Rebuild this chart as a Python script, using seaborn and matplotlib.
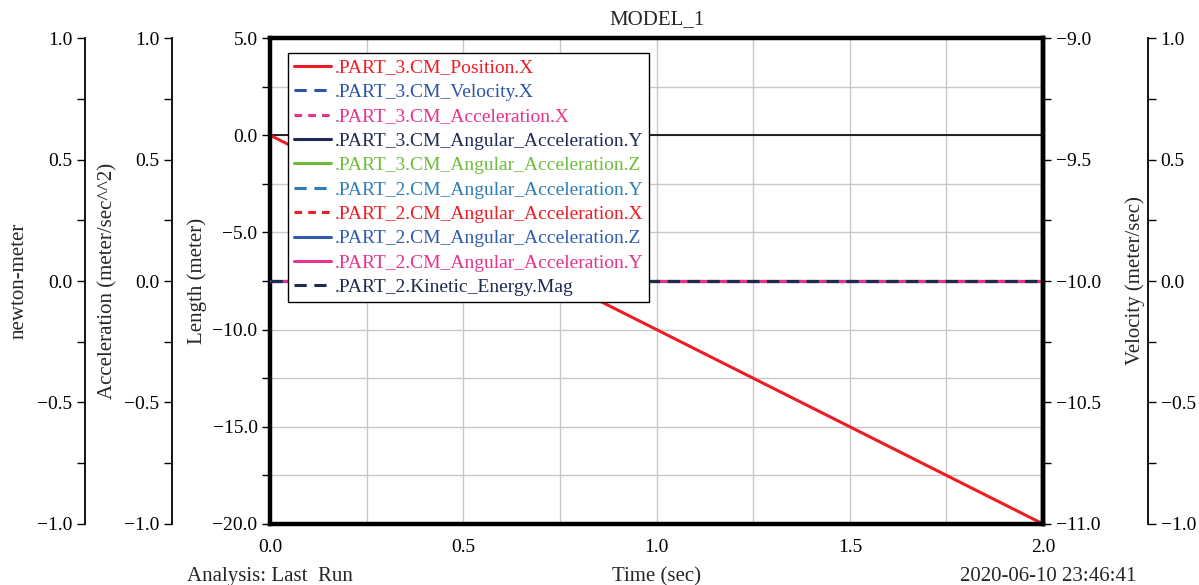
import matplotlib
matplotlib.use("Agg")
import matplotlib.pyplot as plt
from matplotlib.ticker import MultipleLocator, FuncFormatter
import seaborn as sns
import pandas as pd

# ---- data ----
time_s = [0.0, 0.5, 1.0, 1.5, 2.0]
position_x = [0.0, -5.0, -10.0, -15.0, -20.0]
velocity_x = [-10.0, -10.0, -10.0, -10.0, -10.0]
accel_x = [0.0, 0.0, 0.0, 0.0, 0.0]
p3_ang_acc_y = [0.0, 0.0, 0.0, 0.0, 0.0]
p3_ang_acc_z = [0.0, 0.0, 0.0, 0.0, 0.0]
p2_ang_acc_y = [0.0, 0.0, 0.0, 0.0, 0.0]
p2_ang_acc_x = [0.0, 0.0, 0.0, 0.0, 0.0]
p2_ang_acc_z = [0.0, 0.0, 0.0, 0.0, 0.0]
p2_ang_acc_y2 = [0.0, 0.0, 0.0, 0.0, 0.0]
p2_kinetic = [0.0, 0.0, 0.0, 0.0, 0.0]

labels = [".PART_3.CM_Position.X", ".PART_3.CM_Velocity.X", ".PART_3.CM_Acceleration.X",
          ".PART_3.CM_Angular_Acceleration.Y", ".PART_3.CM_Angular_Acceleration.Z",
          ".PART_2.CM_Angular_Acceleration.Y", ".PART_2.CM_Angular_Acceleration.X",
          ".PART_2.CM_Angular_Acceleration.Z", ".PART_2.CM_Angular_Acceleration.Y",
          ".PART_2.Kinetic_Energy.Mag"]

sns.set_theme(style="white")
plt.rcParams['font.family'] = ['Liberation Serif', 'DejaVu Serif']
FS = 14
LFS = 15

fmt = FuncFormatter(lambda v, p: ("%.1f" % v).replace("-", "\u2212"))

fig = plt.figure(figsize=(11.99, 5.85), dpi=100)
ax = fig.add_axes([0.2252, 0.1043, 0.870 - 0.2252, 0.935 - 0.1043])
ax_acc = ax.twinx()
ax_nm = ax.twinx()
ax_vel = ax.twinx()
ax_r2 = ax.twinx()

RED = "#ee1c24"
BLUE = "#2b55a6"
PINK = "#e8338c"
NAVY = "#1f2a55"
GREEN = "#6cbd3a"
STEEL = "#2f7db6"
BLUE2 = "#2f5cae"
NAVY2 = "#1e2a4e"

specs = [
    (ax, position_x, RED, "-"),
    (ax_vel, velocity_x, BLUE, (0, (4, 2.5))),
    (ax_acc, accel_x, PINK, (0, (2.5, 2))),
    (ax_nm, p3_ang_acc_y, NAVY, "-"),
    (ax_nm, p3_ang_acc_z, GREEN, "-"),
    (ax_nm, p2_ang_acc_y, STEEL, (0, (4, 2.5))),
    (ax_nm, p2_ang_acc_x, RED, (0, (2.5, 2))),
    (ax_nm, p2_ang_acc_z, BLUE2, "-"),
    (ax_nm, p2_ang_acc_y2, PINK, "-"),
    (ax_r2, p2_kinetic, NAVY2, (0, (4, 2.5))),
]

handles = []
for (a, vals, col, ls), lab in zip(specs, labels):
    df = pd.DataFrame({"t": time_s, "v": vals})
    sns.lineplot(data=df, x="t", y="v", ax=a, color=col, linewidth=2.2, legend=False)
    line = a.get_lines()[-1]
    line.set_linestyle(ls)
    line.set_label(lab)
    handles.append(line)

# zero line on main axes
ax.axhline(0, color="black", linewidth=1.2, zorder=1)

# main axes
ax.set_xlim(0, 2.0)
ax.set_ylim(-20, 5)
ax.xaxis.set_major_locator(MultipleLocator(0.5))
ax.xaxis.set_minor_locator(MultipleLocator(0.25))
ax.yaxis.set_major_locator(MultipleLocator(5))
ax.yaxis.set_minor_locator(MultipleLocator(2.5))
ax.xaxis.set_major_formatter(fmt)
ax.yaxis.set_major_formatter(fmt)
ax.grid(True, which="both", color="#c8c8c8", linewidth=1.0)
ax.set_axisbelow(True)
for s in ax.spines.values():
    s.set_linewidth(3.2)
    s.set_color("black")
ax.tick_params(axis="both", which="both", direction="out", length=6, width=1,
               labelsize=FS, colors="black", pad=3)
ax.tick_params(axis="x", which="both", length=0, pad=11)
ax.set_ylabel("Length (meter)", fontsize=LFS, labelpad=4)
ax.set_xlabel("")
ax.set_title("MODEL_1", fontsize=LFS, pad=10)

def style_side(a, ylim, side, pos, label=None, labelpad=4):
    a.set_ylim(*ylim)
    for k in ["top", "bottom", "left", "right"]:
        a.spines[k].set_visible(False)
    a.spines[side].set_visible(True)
    a.spines[side].set_linewidth(1.3)
    a.spines[side].set_color("black")
    a.spines[side].set_position(("axes", pos))
    a.yaxis.set_ticks_position(side)
    a.yaxis.set_label_position(side)
    a.yaxis.set_major_locator(MultipleLocator(0.5))
    a.yaxis.set_minor_locator(MultipleLocator(0.25))
    a.yaxis.set_major_formatter(fmt)
    a.tick_params(axis="y", which="both", direction="out", length=6, width=1,
                  labelsize=FS, colors="black", pad=3)
    a.grid(False)
    if label:
        a.set_ylabel(label, fontsize=LFS, labelpad=labelpad)
    else:
        a.set_ylabel("")

style_side(ax_acc, (-1, 1), "left", -0.1268, "Acceleration (meter/sec^^2)", 4.5)
style_side(ax_nm, (-1, 1), "left", -0.2393, "newton-meter", 6.5)
style_side(ax_vel, (-11, -9), "right", 1.0, "Velocity (meter/sec)", 18)
ax_vel.yaxis.label.set_rotation(90)
style_side(ax_r2, (-1, 1), "right", 1.1358, None)

ax_vel.spines["right"].set_linewidth(3.2)

leg = ax_r2.legend(handles=handles, loc="upper left", bbox_to_anchor=(0.0233, 0.969),
                   fontsize=FS, frameon=True, fancybox=False, shadow=False, framealpha=1.0,
                   handlelength=1.9, handletextpad=0.2, labelspacing=0.35,
                   borderpad=0.3, borderaxespad=0)
leg.get_frame().set_edgecolor("black")
leg.get_frame().set_linewidth(1.0)
for txt, h in zip(leg.get_texts(), handles):
    txt.set_color(h.get_color())

fig.text(0.2252, 0.006, "Analysis: Last  Run", ha="center", va="baseline", fontsize=LFS)
fig.text(0.5476, 0.006, "Time (sec)", ha="center", va="baseline", fontsize=LFS)
fig.text(0.948, 0.006, "2020-06-10 23:46:41", ha="right", va="baseline", fontsize=LFS)

fig.savefig("out.png", dpi=100)
